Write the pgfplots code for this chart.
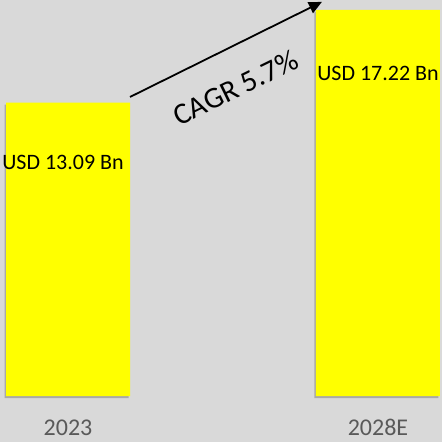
\documentclass[border=0pt]{standalone}
\usepackage{pgfplots}
\pgfplotsset{compat=1.18}
\usepackage{fontspec}
\setmainfont{Carlito}
\usetikzlibrary{arrows.meta,shadows}
\definecolor{bg}{HTML}{D9D9D9}
\definecolor{baryellow}{HTML}{FFFF00}
\definecolor{yeargray}{HTML}{595959}
\begin{document}
\begin{tikzpicture}
\begin{axis}[
  name=ax,
  at={(0,0)}, anchor=south west,
  scale only axis,
  width=442pt, height=442pt,
  xmin=-0.2194, xmax=1.2065,
  ymin=-2.052, ymax=17.666,
  axis lines=none,
  axis background/.style={fill=bg},
  clip=false,
  ybar, bar width=124pt,
]
\addplot[fill=baryellow, draw=none, bar shift=0pt,
  drop shadow={shadow xshift=-1.5pt, shadow yshift=-2pt, fill=black, opacity=0.22}] coordinates {(0,13.09) (1,17.22)};
\node[font=\fontsize{22}{26}\selectfont, text=black] at (axis cs:-0.016,10.44) {USD 13.09 Bn};
\node[font=\fontsize{22}{26}\selectfont, text=black] at (axis cs:1.0,14.41) {USD 17.22 Bn};
\node[font=\fontsize{24}{28}\selectfont, text=yeargray, anchor=base, inner sep=0pt] at (axis cs:0,-1.76) {2023};
\node[font=\fontsize{24}{28}\selectfont, text=yeargray, anchor=base, inner sep=0pt] at (axis cs:1,-1.76) {2028E};
\draw[line width=1.8pt, -{Triangle[length=13pt,width=12pt]}] (axis cs:0.2,13.34) -- (axis cs:0.819,17.58);
\node[font=\fontsize{30}{34}\selectfont, rotate=26, inner sep=0pt] at (axis cs:0.54,13.75) {CAGR 5.7\%};
\end{axis}
\pgfresetboundingbox
\path (ax.south west) rectangle (ax.north east);
\end{tikzpicture}
\end{document}
